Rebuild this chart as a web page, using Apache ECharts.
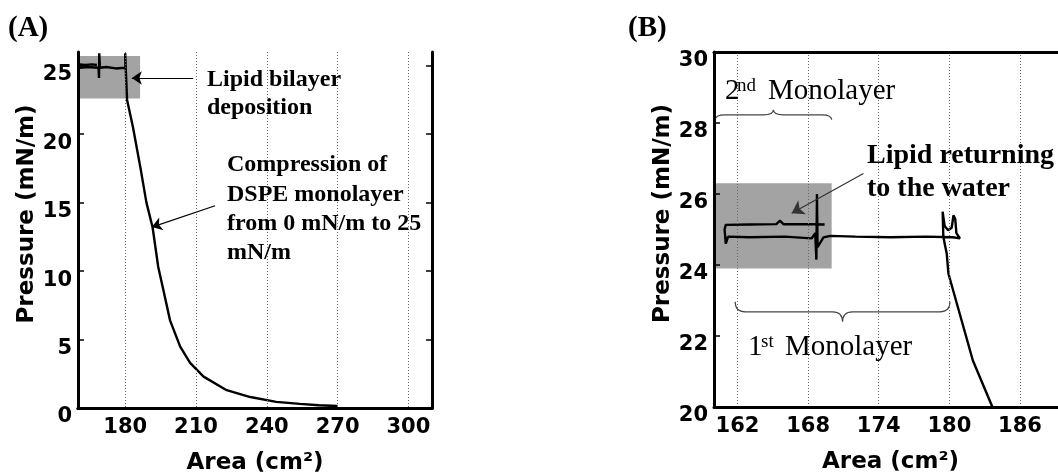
<!DOCTYPE html>
<html>
<head>
<meta charset="utf-8">
<script src="https://cdn.jsdelivr.net/npm/echarts@6/dist/echarts.min.js"></script>
<style>
  html, body { margin: 0; padding: 0; background: #fff; }
  #chart { width: 1058px; height: 474px; }
</style>
</head>
<body>
<div id="chart"></div>
<script>
// (A) DSPE compression then bilayer deposition plateau
const areaA = [270, 262, 254, 244, 233, 223, 213.2, 207.5, 203.3, 199, 196.2, 194, 191.6, 189, 186.5, 183.3, 180.8, 180.3,
  180, 180.1, 176, 172, 169.3, 169, 168.9, 168.7, 164, 160.8, 160.7, 163, 166, 168];
const pressureA = [0.15, 0.2, 0.3, 0.45, 0.8, 1.3, 2.29, 3.3, 4.48, 6.4, 8.6, 10.3, 13.2, 15.0, 17.5, 20.5, 22.5, 24.5,
  25.9, 24.85, 24.8, 24.9, 24.85, 25.9, 24.1, 24.85, 24.9, 24.85, 25.1, 25.05, 25.1, 25.05];

// (B) zoom on the plateau
const areaB = [183.66, 182.0, 179.92, 179.78, 179.49, 179.43, 179.6, 179.9, 180.2, 180.35, 180.5, 180.6, 180.9,
  180.3, 178, 175, 172, 169.9, 169.3, 168.8, 168.75, 168.7, 168.6, 168.3, 166, 163, 161.2, 161, 160.9, 161,
  163, 165.3, 165.6, 165.9, 168, 169.4];
const pressureB = [20, 21.31, 23.76, 24.32, 24.79, 25.5, 25.1, 24.98, 25.05, 25.4, 25.3, 24.9, 24.75,
  24.78, 24.8, 24.78, 24.8, 24.82, 24.78, 24.5, 26.0, 24.15, 24.9, 24.75, 24.8, 24.78, 24.8, 24.6, 25.0, 25.13,
  25.14, 25.15, 25.25, 25.15, 25.15, 25.14];

const xTicksA = [180, 210, 240, 270, 300];
const yTicksA = [0, 5, 10, 15, 20, 25];
const xTicksB = [162, 168, 174, 180, 186];

// shaded boxes [x1, y1, x2, y2]
const boxA = [160, 22.6, 186.3, 25.7];
const boxB = [160, 23.9, 170, 26.3];

// arrows [fromX, fromY, toX, toY]
const arrowsA = [[208.8, 24.1, 182.8, 24.1], [218.1, 14.77, 191.3, 13.21]];
const arrowsB = [[172.7, 26.58, 166.6, 25.46]];

// braces [x1, x2, y, dir] (dir -1 = tip up, 1 = tip down)
const bracesB = [[160.1, 170.0, 28.23, -1], [161.8, 180.05, 22.68, 1]];
const braceDepth = [5, 10];

const chart = echarts.init(document.getElementById('chart'));

const tickFont = { fontFamily: 'DejaVu Sans', fontWeight: 'bold', fontSize: 21, color: '#000' };
const nameFont = { fontFamily: 'DejaVu Sans', fontWeight: 'bold', fontSize: 23, color: '#000' };
const border = { show: true, lineStyle: { color: '#000', width: 3 } };
const dotted = { show: true, lineStyle: { color: '#666', width: 1, type: [1, 2] } };

function bottomAxis(grid, min, max, ticks) {
  return {
    type: 'value', gridIndex: grid, position: 'bottom', min, max, z: 10,
    name: 'Area (cm²)', nameLocation: 'middle', nameGap: 44, nameTextStyle: nameFont,
    axisLine: border,
    axisTick: { show: false, customValues: ticks },
    axisLabel: { ...tickFont, margin: 9, customValues: ticks },
    splitLine: dotted,
  };
}
function topAxis(grid, min, max) {
  return {
    type: 'value', gridIndex: grid, position: 'top', min, max, z: 10,
    axisLine: border, axisTick: { show: false }, axisLabel: { show: false }, splitLine: { show: false },
  };
}
function leftAxis(grid, min, max, ticks, interval) {
  return {
    type: 'value', gridIndex: grid, position: 'left', min, max, interval, z: 10,
    name: 'Pressure (mN/m)', nameLocation: 'middle', nameGap: 38,
    nameTextStyle: { ...nameFont, padding: [0, 0, 0, 32] },
    axisLine: border,
    axisTick: { show: true, inside: true, length: 6, lineStyle: { color: '#000', width: 1.5 }, customValues: ticks },
    axisLabel: { ...tickFont, margin: 6, verticalAlign: 'top', lineHeight: 18, customValues: ticks },
    splitLine: { show: false },
  };
}
function rightAxis(grid, min, max, ticks, interval) {
  return {
    type: 'value', gridIndex: grid, position: 'right', min, max, interval, z: 10,
    axisLine: border,
    axisTick: { show: true, inside: true, length: 6, lineStyle: { color: '#000', width: 1.5 }, customValues: ticks },
    axisLabel: { show: false }, splitLine: { show: false },
  };
}

function zip(xs, ys) { return xs.map((x, i) => [x, ys[i]]); }
function arrowLines(list) {
  return list.map((a) => [{ coord: [a[0], a[1]] }, { coord: [a[2], a[3]] }]);
}
function boxArea(b) {
  return [[{ coord: [b[0], b[1]] }, { coord: [b[2], b[3]] }]];
}

const serif = (w, s) => `${w} ${s}px "Liberation Serif", "Times New Roman", serif`;
function txt(text, x, y, font) {
  return {
    type: 'text', x, y, z: 20, silent: true,
    style: { text, font, fill: '#000', textAlign: 'left', textVerticalAlign: 'middle', align: 'left', verticalAlign: 'middle' },
  };
}

chart.setOption({
  animation: false,
  backgroundColor: '#fff',
  grid: [
    { left: 78, top: 52, width: 354, height: 356, outerBoundsMode: 'none', containLabel: false },
    { left: 714, top: 52, width: 353, height: 355, outerBoundsMode: 'none', containLabel: false },
  ],
  xAxis: [
    bottomAxis(0, 160, 310, xTicksA),
    topAxis(0, 160, 310),
    bottomAxis(1, 160, 190, xTicksB),
    topAxis(1, 160, 190),
  ],
  yAxis: [
    leftAxis(0, 0, 26, yTicksA),
    rightAxis(0, 0, 26, yTicksA),
    leftAxis(1, 20, 30, null, 2),
    rightAxis(1, 20, 30, null, 2),
  ],
  series: [
    {
      type: 'line', xAxisIndex: 0, yAxisIndex: 0,
      data: zip(areaA, pressureA),
      showSymbol: false, symbol: 'none',
      lineStyle: { color: '#000', width: 2.4 },
      markArea: { silent: true, itemStyle: { color: '#a3a3a3', opacity: 1 }, data: boxArea(boxA) },
      markLine: {
        silent: true, symbol: ['none', 'arrow'], symbolSize: 10,
        lineStyle: { color: '#000', width: 1.2, type: 'solid' }, label: { show: false },
        data: arrowLines(arrowsA),
      },
    },
    {
      type: 'line', xAxisIndex: 2, yAxisIndex: 2,
      data: zip(areaB, pressureB),
      showSymbol: false, symbol: 'none',
      lineStyle: { color: '#000', width: 2.4 },
      markArea: { silent: true, itemStyle: { color: '#a3a3a3', opacity: 1 }, data: boxArea(boxB) },
      markLine: {
        silent: true, symbol: ['none', 'arrow'], symbolSize: 12,
        lineStyle: { color: '#333', width: 1.2, type: 'solid' }, label: { show: false },
        data: arrowLines(arrowsB),
      },
    },
    {
      type: 'custom', xAxisIndex: 2, yAxisIndex: 2, silent: true,
      data: bracesB,
      renderItem(params, api) {
        const p1 = api.coord([api.value(0), api.value(2)]);
        const p2 = api.coord([api.value(1), api.value(2)]);
        const d = api.value(3);
        const h = braceDepth[params.dataIndex];
        const y = p1[1], x1 = p1[0], x2 = p2[0], xm = (x1 + x2) / 2;
        const path = `M${x1},${y - d * h} Q${x1},${y} ${x1 + 10},${y} L${xm - 10},${y} Q${xm},${y} ${xm},${y + d * h}` +
          ` Q${xm},${y} ${xm + 10},${y} L${x2 - 10},${y} Q${x2},${y} ${x2},${y - d * h}`;
        return { type: 'path', shape: { pathData: path }, style: { stroke: '#444', fill: null, lineWidth: 1.2 } };
      },
    },
  ],
  graphic: [
    txt('(A)', 8, 29, serif('bold', 29)),
    txt('Lipid bilayer', 207, 80, serif('bold', 24)),
    txt('deposition', 207, 108, serif('bold', 24)),
    txt('Compression of', 227, 165, serif('bold', 24)),
    txt('DSPE monolayer', 227, 194.5, serif('bold', 24)),
    txt('from 0 mN/m to 25', 227, 224, serif('bold', 24)),
    txt('mN/m', 227, 253, serif('bold', 24)),
    txt('(B)', 628, 29, serif('bold', 29)),
    txt('2', 725, 91, serif('normal', 29)),
    txt('nd', 737, 86, serif('normal', 19)),
    txt('Monolayer', 768, 91, serif('normal', 29)),
    txt('1', 748, 347, serif('normal', 29)),
    txt('st', 761, 342, serif('normal', 19)),
    txt('Monolayer', 785, 347, serif('normal', 29)),
    txt('Lipid returning', 867, 156, serif('bold', 28)),
    txt('to the water', 867, 189, serif('bold', 28)),
  ],
});
</script>
</body>
</html>
